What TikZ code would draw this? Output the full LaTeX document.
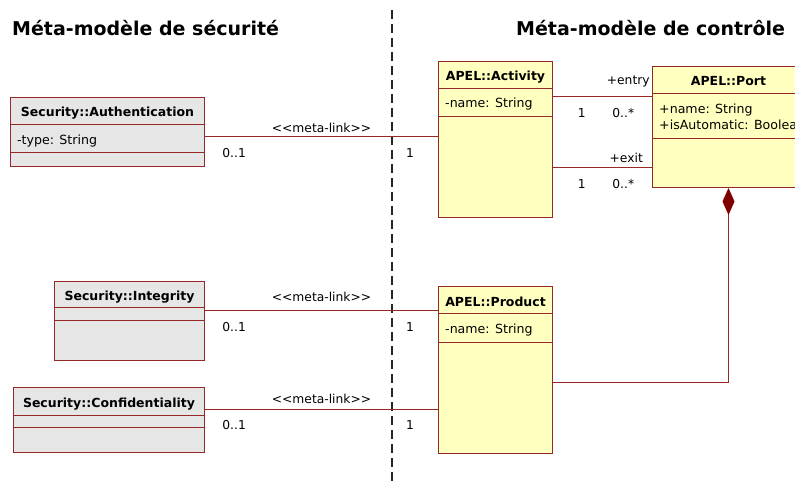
\documentclass[tikz,border=0pt]{standalone}
\usepackage{fontspec}
\setmainfont{DejaVu Sans}
\usetikzlibrary{arrows.meta, positioning}
\definecolor{umlborder}{RGB}{150, 40, 40}
\definecolor{secfill}{RGB}{230, 230, 230}
\definecolor{apelfill}{RGB}{255, 255, 192}
\definecolor{compcolor}{RGB}{128, 0, 0}
\tikzset{
  classbox/.style={
    rectangle, draw=umlborder, line width=1pt,
    anchor=north west, inner sep=0pt
  },
  secclass/.style={classbox, fill=secfill},
  apelclass/.style={classbox, fill=apelfill},
  classname/.style={font=\fontsize{12.5}{14}\selectfont\bfseries, anchor=base, inner sep=0pt},
  attr/.style={font=\fontsize{12.6}{14}\selectfont, anchor=base west, inner sep=0pt},
  compline/.style={draw=umlborder, line width=1pt},
  assoc/.style={draw=umlborder, line width=1pt},
  lbl/.style={font=\fontsize{12.3}{14}\selectfont, inner sep=1pt},
  title/.style={font=\fontsize{19}{22}\selectfont\bfseries, anchor=base west, inner sep=0pt},
  sepline/.style={draw=black!85, line width=1.2pt, dash pattern=on 9pt off 5pt}
}
\newcommand{\classinnards}[4]{%
  \node[classname] (#1-name) at ([yshift=-20pt]#1.north) {#2};
  \draw[compline] ([yshift=-#3pt]#1.north west) -- ([yshift=-#3pt]#1.north east);
  \draw[compline] ([yshift=-#4pt]#1.north west) -- ([yshift=-#4pt]#1.north east);
}
\newcommand{\metalink}{<{}<meta-link>{}>}

\begin{document}
\begin{tikzpicture}[x=1pt, y=-1pt]
  \useasboundingbox (0,0) rectangle (795,486);
  \clip (0,0) rectangle (795,486);

  % ── Titles ─────────────────────────────────────────────────────
  \node[title] (sectitle) at (12,36) {Méta-modèle de sécurité};
  \node[title] (ctltitle) at (516,36) {Méta-modèle de contrôle};

  % ── Separator ──────────────────────────────────────────────────
  \coordinate (septop) at (392,10);
  \coordinate (sepbot) at (392,486);
  \draw[sepline] (septop) -- (sepbot);

  % ── Security classes ───────────────────────────────────────────
  \node[secclass, minimum width=194pt, minimum height=69pt] (auth) at (10,97) {};
  \classinnards{auth}{Security::Authentication}{28}{56}
  \node[attr] (auth-type) at ([xshift=7pt, yshift=-48pt]auth.north west) {-type: String};

  \node[secclass, minimum width=150pt, minimum height=79pt] (integ) at (54,281) {};
  \classinnards{integ}{Security::Integrity}{27}{39}

  \node[secclass, minimum width=191pt, minimum height=65pt] (conf) at (13,387) {};
  \classinnards{conf}{Security::Confidentiality}{28}{40}

  % ── APEL classes ───────────────────────────────────────────────
  \node[apelclass, minimum width=114pt, minimum height=156pt] (act) at (438,61) {};
  \classinnards{act}{APEL::Activity}{28}{56}
  \node[attr] (act-name) at ([xshift=7pt, yshift=-47pt]act.north west) {-name: String};

  \node[apelclass, minimum width=152pt, minimum height=121pt] (port) at (652,66) {};
  \classinnards{port}{APEL::Port}{28}{73}
  \node[attr] (port-name) at ([xshift=7pt, yshift=-48pt]port.north west) {+name: String};
  \node[attr] (port-auto) at ([xshift=7pt, yshift=-64pt]port.north west) {+isAutomatic: Boolean};

  \node[apelclass, minimum width=114pt, minimum height=167pt] (prod) at (438,286) {};
  \classinnards{prod}{APEL::Product}{28}{56}
  \node[attr] (prod-name) at ([xshift=7pt, yshift=-47pt]prod.north west) {-name: String};

  % ── Meta-links ─────────────────────────────────────────────────
  \draw[assoc] ([yshift=-40pt]auth.north east) -- ([yshift=-40pt]auth.north east -| act.west)
    node[lbl, midway, above=3pt] {\metalink}
    node[lbl, pos=0.125, below=10pt] {0..1}
    node[lbl, pos=0.88, below=10pt] {1};

  \draw[assoc] ([yshift=-30pt]integ.north east) -- ([yshift=-30pt]integ.north east -| prod.west)
    node[lbl, midway, above=8pt] {\metalink}
    node[lbl, pos=0.125, below=10pt] {0..1}
    node[lbl, pos=0.88, below=10pt] {1};

  \draw[assoc] ([yshift=-22pt]conf.north east) -- ([yshift=-22pt]conf.north east -| prod.west)
    node[lbl, midway, above=4pt] {\metalink}
    node[lbl, pos=0.125, below=10pt] {0..1}
    node[lbl, pos=0.88, below=10pt] {1};

  % ── Activity / Port ────────────────────────────────────────────
  \draw[assoc] ([yshift=-36pt]act.north east) -- ([yshift=-36pt]act.north east -| port.west)
    node[lbl, pos=0.76, above=8pt] {+entry}
    node[lbl, pos=0.29, below=10pt] {1}
    node[lbl, pos=0.71, below=10pt] {0..*};

  \draw[assoc] ([yshift=-107pt]act.north east) -- ([yshift=-107pt]act.north east -| port.west)
    node[lbl, pos=0.74, above=4pt] {+exit}
    node[lbl, pos=0.29, below=10pt] {1}
    node[lbl, pos=0.71, below=10pt] {0..*};

  % ── Composition Port / Product ─────────────────────────────────
  \draw[assoc, {Diamond[length=27pt, width=12pt, color=compcolor, fill=compcolor]}-]
    (port.south) |- ([yshift=-96pt]prod.north east);

\end{tikzpicture}
\end{document}
